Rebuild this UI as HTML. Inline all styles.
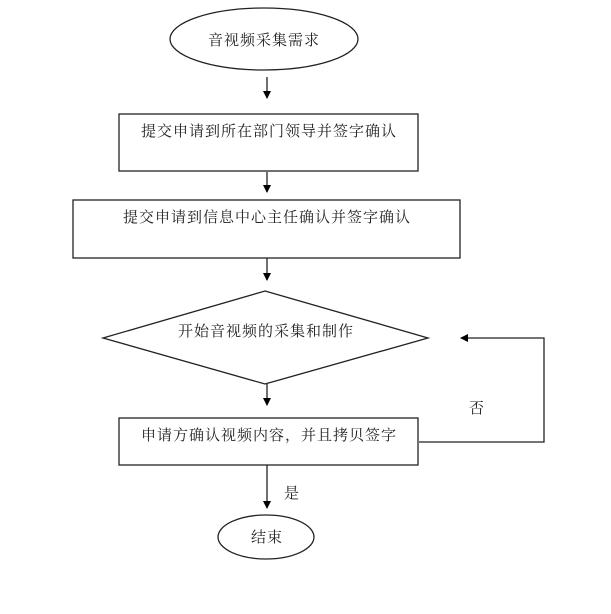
<!DOCTYPE html>
<html><head><meta charset="utf-8"><style>
html,body{margin:0;padding:0;background:#fff;}
svg{display:block;}
text{font-family:"Liberation Serif","Noto Serif CJK SC","Noto Sans CJK SC",serif;font-size:15px;letter-spacing:1px;fill:#222;}
</style></head><body>
<svg width="611" height="614" viewBox="0 0 611 614" xmlns="http://www.w3.org/2000/svg">
<defs><marker id="a" markerWidth="8" markerHeight="8" refX="7" refY="4" orient="auto" markerUnits="userSpaceOnUse"><path d="M0,0 L8,4 L0,8 z" fill="#000"/></marker></defs>
<g stroke="#222" stroke-width="1.3" fill="none">
<ellipse cx="264" cy="39" rx="94" ry="31"/>
<rect x="119" y="114" width="299" height="57"/>
<rect x="73" y="200" width="387" height="58"/>
<polygon points="265,291 428,338 265,384 103,338"/>
<rect x="119" y="418" width="299" height="47"/>
<ellipse cx="266" cy="537" rx="48" ry="22"/>
<line x1="267" y1="77" x2="267" y2="98" marker-end="url(#a)"/>
<line x1="267" y1="172" x2="267" y2="192" marker-end="url(#a)"/>
<line x1="267" y1="258" x2="267" y2="280" marker-end="url(#a)"/>
<line x1="267" y1="384" x2="267" y2="405" marker-end="url(#a)"/>
<line x1="267" y1="465" x2="267" y2="508" marker-end="url(#a)"/>
<polyline points="419,442 544,442 544,338 461,338" marker-end="url(#a)"/>
</g>
<text x="264" y="45" text-anchor="middle">音视频采集需求</text>
<text x="269" y="136" text-anchor="middle">提交申请到所在部门领导并签字确认</text>
<text x="267" y="222" text-anchor="middle">提交申请到信息中心主任确认并签字确认</text>
<text x="266" y="336" text-anchor="middle">开始音视频的采集和制作</text>
<text x="269" y="440" text-anchor="middle">申请方确认视频内容，并且拷贝签字</text>
<text x="477" y="413" text-anchor="middle">否</text>
<text x="292" y="498" text-anchor="middle">是</text>
<text x="267" y="542" text-anchor="middle">结束</text>
</svg>
</body></html>
